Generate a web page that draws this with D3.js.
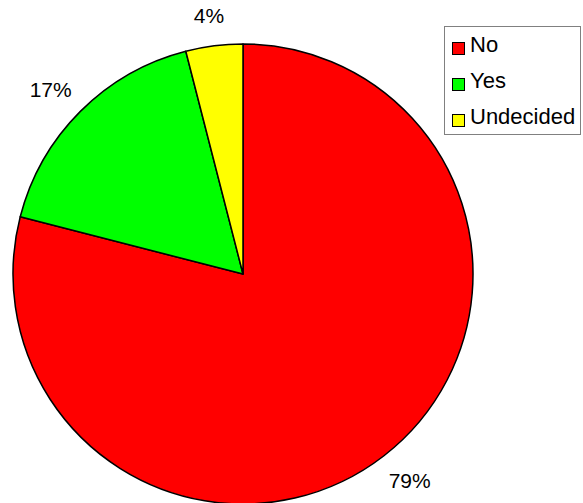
<!DOCTYPE html>
<html>
<head>
<meta charset="utf-8">
<script src="https://cdn.jsdelivr.net/npm/d3@7"></script>
<style>
  html, body { margin: 0; padding: 0; background: #fff; }
  svg { display: block; font-family: Arial, "Liberation Sans", sans-serif; }
</style>
</head>
<body>
<svg id="chart" width="583" height="503"></svg>
<script>
// Survey answers, share of respondents (%)
const categories = ["No", "Yes", "Undecided"];
const values = [79, 17, 4];
const colors = ["#FF0000", "#00FF00", "#FFFF00"];

const svg = d3.select("#chart");
const cx = 243, cy = 274, radius = 230;

const pie = d3.pie().sort(null).value(d => d.value);
const data = categories.map((c, i) => ({ name: c, value: values[i], color: colors[i] }));
const arcs = pie(data);
const arc = d3.arc().innerRadius(0).outerRadius(radius);

const g = svg.append("g").attr("transform", `translate(${cx},${cy})`);

g.selectAll("path.slice")
  .data(arcs)
  .enter().append("path")
  .attr("class", "slice")
  .attr("d", arc)
  .attr("fill", d => d.data.color)
  .attr("stroke", "#000")
  .attr("stroke-width", 1.5)
  .attr("stroke-linejoin", "round");

// Percentage labels placed outside the rim, on a slightly wider ellipse
const labelRx = 272, labelRy = 261;
const total = d3.sum(values);
g.selectAll("text.pct")
  .data(arcs)
  .enter().append("text")
  .attr("class", "pct")
  .attr("x", d => Math.sin((d.startAngle + d.endAngle) / 2) * labelRx)
  .attr("y", d => -Math.cos((d.startAngle + d.endAngle) / 2) * labelRy)
  .attr("text-anchor", "middle")
  .attr("dominant-baseline", "central")
  .attr("font-size", 21)
  .attr("fill", "#000")
  .text(d => Math.round(d.data.value / total * 100) + "%");

// Legend
const legend = svg.append("g");
legend.append("rect")
  .attr("x", 444.5).attr("y", 26.5)
  .attr("width", 136).attr("height", 108)
  .attr("fill", "#fff")
  .attr("stroke", "#808080")
  .attr("stroke-width", 1);

const items = legend.selectAll("g.item")
  .data(data)
  .enter().append("g")
  .attr("class", "item")
  .attr("transform", (d, i) => `translate(452,${42 + i * 36})`);

items.append("rect")
  .attr("x", 0.5).attr("y", 0.5)
  .attr("width", 12).attr("height", 12)
  .attr("fill", d => d.color)
  .attr("stroke", "#000")
  .attr("stroke-width", 1);

items.append("text")
  .attr("x", 18)
  .attr("y", 10)
  .attr("font-size", 22)
  .attr("fill", "#000")
  .text(d => d.name);
</script>
</body>
</html>
